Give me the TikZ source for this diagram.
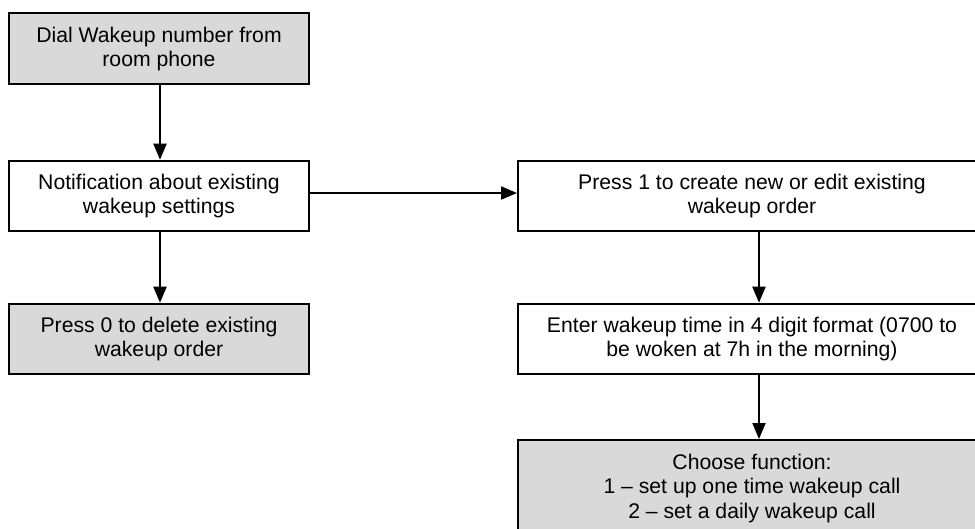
\documentclass[tikz,border=0pt]{standalone}
\usepackage{fontspec}
\setmainfont{Liberation Sans}
\usepackage{tikz}
\usetikzlibrary{arrows.meta}

\begin{document}
\begin{tikzpicture}[x=0.5pt, y=-0.5pt,
    boite/.style={draw, line width=1pt, fill=white, inner sep=0pt,
      align=center, font=\fontsize{10.6pt}{12.2pt}\selectfont,
      minimum height=35.25pt},
    grise/.style={boite, fill=gray!30},
    fleche/.style={line width=1pt, -{Triangle[length=8pt, width=6.5pt]}}]
      \useasboundingbox (0,0) rectangle (975,529);
      \clip (0,0) rectangle (975,529);

      \node[grise, minimum width=150pt] (composer) at (159,48.75) {Dial Wakeup number from\\room phone};
      \node[boite, minimum width=150pt] (notif) at (159,196) {Notification about existing\\wakeup settings};
      \node[grise, minimum width=150pt] (efface) at (159,339) {Press 0 to delete existing\\wakeup order};

      \node[boite, minimum width=234pt] (cree) at (752,196) {Press 1 to create new or edit existing\\wakeup order};
      \node[boite, minimum width=234pt] (saisie) at (752,339) {Enter wakeup time in 4 digit format (0700 to\\be woken at 7h in the morning)};
      \node[grise, minimum width=234pt, minimum height=48.5pt] (choix) at (752,488.5)
        {Choose function:\\1 -- set up one time wakeup call\\2 -- set a daily wakeup call};

      \draw[fleche] ([xshift=0.5pt]composer.south) -- ([xshift=0.5pt]notif.north);
      \draw[fleche] ([xshift=0.5pt]notif.south) -- ([xshift=0.5pt]efface.north);
      \draw[fleche] ([yshift=1.5pt]notif.east) -- ([yshift=1.5pt]cree.west);
      \draw[fleche] ([xshift=3.5pt]cree.south) -- ([xshift=3.5pt]saisie.north);
      \draw[fleche] ([xshift=3.5pt]saisie.south) -- ([xshift=3.5pt]choix.north);
    \end{tikzpicture}
\end{document}
